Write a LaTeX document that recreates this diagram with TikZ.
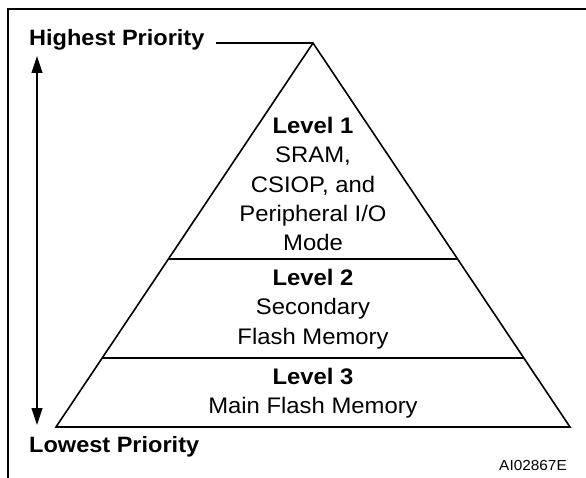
\documentclass[tikz,border=0pt]{standalone}
\usepackage{fontspec}
\setmainfont{Liberation Sans}[FakeStretch=1.06]
\usetikzlibrary{arrows.meta}
\begin{document}
\begin{tikzpicture}[x=1pt,y=-1pt,
  lbl/.style={inner sep=0pt, align=center, font=\fontsize{22.5}{29.3}\selectfont},
  side/.style={inner sep=0pt, anchor=west, font=\fontsize{22.2}{24}\selectfont\bfseries},
  edge/.style={line width=1.6pt, line join=miter},
  frame/.style={line width=2.4pt}]
\useasboundingbox (0,0) rectangle (586,478);
% frame
\coordinate (ftop) at (8,9);
\coordinate (fright) at (586,9);
\coordinate (fbot) at (8,478);
\draw[frame] (fbot) -- (ftop) -- (fright);
% pyramid
\coordinate (apex) at (313,43);
\coordinate (bl) at (56,427);
\coordinate (br) at (570,427);
\draw[edge] (bl) -- (apex) -- (br) -- cycle;
\coordinate (l1a) at (168.4,259);
\coordinate (l1b) at (457.6,259);
\coordinate (l2a) at (102.2,358);
\coordinate (l2b) at (523.8,358);
\draw[edge] (l1a) -- (l1b);
\draw[edge] (l2a) -- (l2b);
% texts
\node[lbl] (lv1) at (313,184) {\textbf{Level 1}\\SRAM,\\CSIOP, and\\Peripheral I/O\\Mode};
\node[lbl] (lv2) at (313,309) {\textbf{Level 2}\\Secondary\\Flash Memory};
\node[lbl] (lv3) at (313,393) {\textbf{Level 3}\\Main Flash Memory};
\node[side] (hp) at (29,40) {Highest Priority};
\node[side] (lp) at (29,447) {Lowest Priority};
\node[inner sep=0pt, font=\fontsize{14.5}{16}\selectfont] (ai) at (533,466) {AI02867E};
% connectors
\draw[line width=1.2pt] ([xshift=11pt]hp.east |- apex) -- (apex);
\coordinate (atop) at (37,56);
\coordinate (abot) at (37,425);
\draw[line width=1.2pt, {Triangle[length=17pt,width=11pt]}-{Triangle[length=17pt,width=11pt]}] (atop) -- (abot);
\end{tikzpicture}
\end{document}
